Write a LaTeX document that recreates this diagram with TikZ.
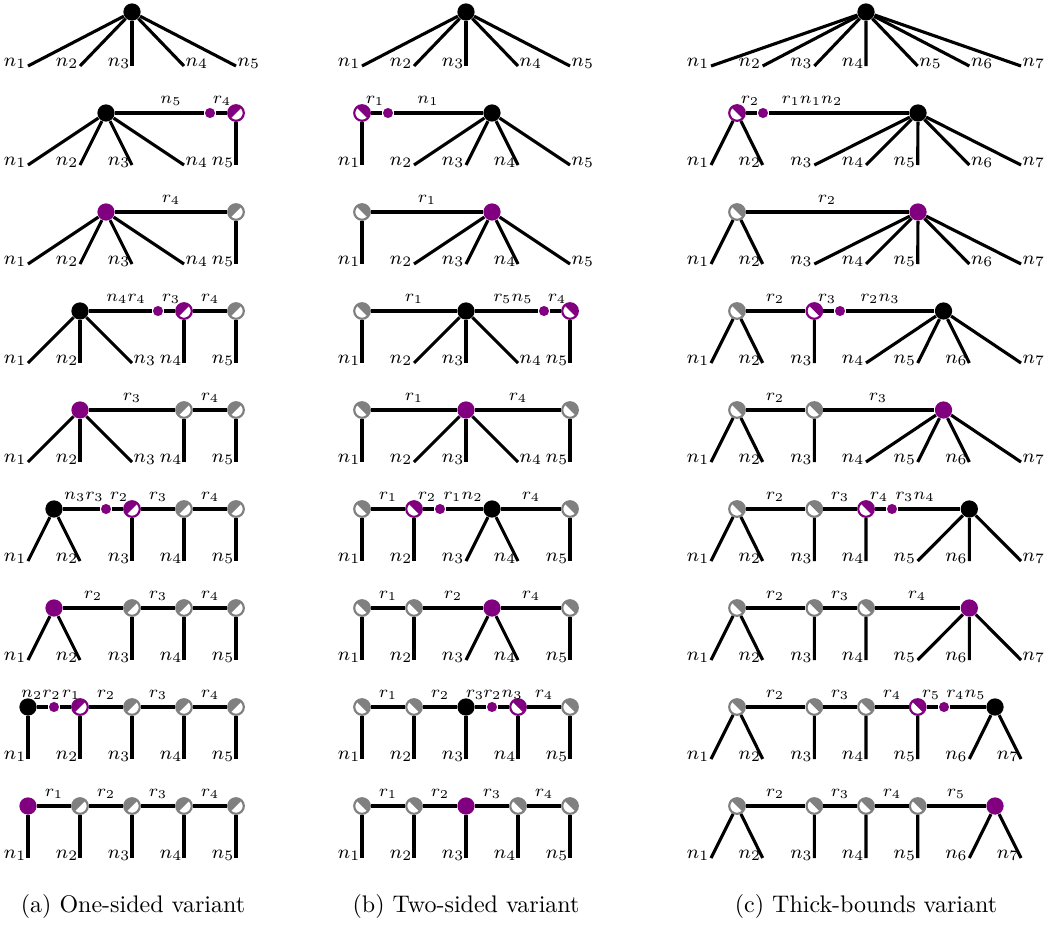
\documentclass[tikz,border=0pt]{standalone}
\usepackage{amsmath}
\usepackage{tikz}
\usepackage{color}

\definecolor{vpurple}{RGB}{128,0,128}
\definecolor{vgray}{RGB}{128,128,128}

\tikzset{
  edge/.style={line width=1.3pt},
  bnode/.style={circle, fill=black, minimum size=7.2pt, inner sep=0pt},
  pnode/.style={circle, fill=vpurple, minimum size=7.2pt, inner sep=0pt},
  mdot/.style={circle, fill=vpurple, minimum size=4.2pt, inner sep=0pt},
  halfone/.style={circle, draw=#1, fill=white, line width=0.9pt, minimum size=6.5pt, inner sep=0pt,
    path picture={\fill[#1] (path picture bounding box.south west) -- (path picture bounding box.north east) -- (path picture bounding box.north west) -- cycle;}},
  halftwo/.style={circle, draw=#1, fill=white, line width=0.9pt, minimum size=6.5pt, inner sep=0pt,
    path picture={\fill[#1] (path picture bounding box.north west) -- (path picture bounding box.south east) -- (path picture bounding box.north east) -- cycle;}},
  leaflbl/.style={inner sep=0.5pt, font=\footnotesize},
  edgelbl/.style={anchor=base, inner sep=0pt, font=\fontsize{7.5}{9}\selectfont},
  caption/.style={anchor=base, inner sep=0pt},
}

\begin{document}
\begin{tikzpicture}[x=0.4167pt,y=0.4167pt,yscale=-1]
\useasboundingbox (0,0) rectangle (1046,925);

% leaves of all rows; labels right of the end for leaves lo..hi
\foreach \row/\y/\lA/\hA/\lB/\hB/\lC/\hC in {1/66/4/5/4/5/5/7, 2/165/4/4/5/5/6/7,
    3/264/4/4/5/5/6/7, 4/363/3/3/4/4/7/7, 5/462/3/3/4/4/7/7, 6/561/0/0/0/0/7/7,
    7/660/0/0/0/0/7/7, 8/759/0/0/0/0/0/0, 9/858/0/0/0/0/0/0}{
  \foreach \i in {1,...,5}{
    \coordinate (a\row-\i) at ({28+52*(\i-1)},\y);
    \def\side{east}\ifnum\i<\lA\else\ifnum\i>\hA\else\def\side{west}\fi\fi
    \node[leaflbl, anchor=base \side] (la\row-\i) at (a\row-\i) {$n_{\i}$};
    \coordinate (b\row-\i) at ({362+52*(\i-1)},\y);
    \def\side{east}\ifnum\i<\lB\else\ifnum\i>\hB\else\def\side{west}\fi\fi
    \node[leaflbl, anchor=base \side] (lb\row-\i) at (b\row-\i) {$n_{\i}$};
  }
  \foreach \i in {1,...,7}{
    \coordinate (c\row-\i) at ({711+51.67*(\i-1)},\y);
    \def\side{east}\ifnum\i<\lC\else\ifnum\i>\hC\else\def\side{west}\fi\fi
    \node[leaflbl, anchor=base \side] (lc\row-\i) at (c\row-\i) {$n_{\i}$};
  }
}

%%%%% (a) one-sided
% row 1
\node[bnode] (a1c) at (132,12) {};
\foreach \i in {1,...,5} \draw[edge] (a1c) -- (a1-\i);
% row 2
\node[bnode] (a2c) at (106,113) {};
\node[mdot] (a2d) at (210,113) {};
\node[halfone=vpurple] (a2h5) at (236,113) {};
\foreach \i in {1,...,4} \draw[edge] (a2c) -- (a2-\i);
\draw[edge] (a2c) -- (a2d) -- (a2h5) -- (a2-5);
\node[edgelbl] (a2e1) at (171,103) {$n_5$};
\node[edgelbl] (a2e2) at (222,103) {$r_4$};
% row 3
\node[pnode] (a3c) at (106,212) {};
\node[halfone=vgray] (a3h5) at (236,212) {};
\foreach \i in {1,...,4} \draw[edge] (a3c) -- (a3-\i);
\draw[edge] (a3c) -- (a3h5) -- (a3-5);
\node[edgelbl] (a3e1) at (171,202) {$r_4$};
% row 4
\node[bnode] (a4c) at (80,311) {};
\node[mdot] (a4d) at (158,311) {};
\node[halfone=vpurple] (a4h4) at (184,311) {};
\node[halfone=vgray] (a4h5) at (236,311) {};
\foreach \i in {1,...,3} \draw[edge] (a4c) -- (a4-\i);
\draw[edge] (a4c) -- (a4d) -- (a4h4) -- (a4h5);
\draw[edge] (a4h4) -- (a4-4) (a4h5) -- (a4-5);
\node[edgelbl] (a4e1) at (126,301) {$n_4r_4$};
\node[edgelbl] (a4e2) at (171,301) {$r_3$};
\node[edgelbl] (a4e3) at (210,301) {$r_4$};
% row 5
\node[pnode] (a5c) at (80,410) {};
\node[halfone=vgray] (a5h4) at (184,410) {};
\node[halfone=vgray] (a5h5) at (236,410) {};
\foreach \i in {1,...,3} \draw[edge] (a5c) -- (a5-\i);
\draw[edge] (a5c) -- (a5h4) -- (a5h5);
\draw[edge] (a5h4) -- (a5-4) (a5h5) -- (a5-5);
\node[edgelbl] (a5e1) at (132,400) {$r_3$};
\node[edgelbl] (a5e2) at (210,400) {$r_4$};
% row 6
\node[bnode] (a6c) at (54,509) {};
\node[mdot] (a6d) at (106,509) {};
\node[halfone=vpurple] (a6h3) at (132,509) {};
\node[halfone=vgray] (a6h4) at (184,509) {};
\node[halfone=vgray] (a6h5) at (236,509) {};
\draw[edge] (a6c) -- (a6-1) (a6c) -- (a6-2);
\draw[edge] (a6c) -- (a6d) -- (a6h3) -- (a6h4) -- (a6h5);
\draw[edge] (a6h3) -- (a6-3) (a6h4) -- (a6-4) (a6h5) -- (a6-5);
\node[edgelbl] (a6e1) at (84,499) {$n_3r_3$};
\node[edgelbl] (a6e2) at (119,499) {$r_2$};
\node[edgelbl] (a6e3) at (158,499) {$r_3$};
\node[edgelbl] (a6e4) at (210,499) {$r_4$};
% row 7
\node[pnode] (a7c) at (54,608) {};
\node[halfone=vgray] (a7h3) at (132,608) {};
\node[halfone=vgray] (a7h4) at (184,608) {};
\node[halfone=vgray] (a7h5) at (236,608) {};
\draw[edge] (a7c) -- (a7-1) (a7c) -- (a7-2);
\draw[edge] (a7c) -- (a7h3) -- (a7h4) -- (a7h5);
\draw[edge] (a7h3) -- (a7-3) (a7h4) -- (a7-4) (a7h5) -- (a7-5);
\node[edgelbl] (a7e1) at (93,598) {$r_2$};
\node[edgelbl] (a7e2) at (158,598) {$r_3$};
\node[edgelbl] (a7e3) at (210,598) {$r_4$};
% row 8
\node[bnode] (a8c) at (28,707) {};
\node[mdot] (a8d) at (54,707) {};
\node[halfone=vpurple] (a8h2) at (80,707) {};
\node[halfone=vgray] (a8h3) at (132,707) {};
\node[halfone=vgray] (a8h4) at (184,707) {};
\node[halfone=vgray] (a8h5) at (236,707) {};
\draw[edge] (a8c) -- (a8-1);
\draw[edge] (a8c) -- (a8d) -- (a8h2) -- (a8h3) -- (a8h4) -- (a8h5);
\draw[edge] (a8h2) -- (a8-2) (a8h3) -- (a8-3) (a8h4) -- (a8-4) (a8h5) -- (a8-5);
\node[edgelbl] (a8e1) at (41,697) {$n_2r_2$};
\node[edgelbl] (a8e2) at (71,697) {$r_1$};
\node[edgelbl] (a8e3) at (106,697) {$r_2$};
\node[edgelbl] (a8e4) at (158,697) {$r_3$};
\node[edgelbl] (a8e5) at (210,697) {$r_4$};
% row 9
\node[pnode] (a9c) at (28,806) {};
\node[halfone=vgray] (a9h2) at (80,806) {};
\node[halfone=vgray] (a9h3) at (132,806) {};
\node[halfone=vgray] (a9h4) at (184,806) {};
\node[halfone=vgray] (a9h5) at (236,806) {};
\draw[edge] (a9c) -- (a9-1);
\draw[edge] (a9c) -- (a9h2) -- (a9h3) -- (a9h4) -- (a9h5);
\draw[edge] (a9h2) -- (a9-2) (a9h3) -- (a9-3) (a9h4) -- (a9-4) (a9h5) -- (a9-5);
\node[edgelbl] (a9e1) at (54,796) {$r_1$};
\node[edgelbl] (a9e2) at (106,796) {$r_2$};
\node[edgelbl] (a9e3) at (158,796) {$r_3$};
\node[edgelbl] (a9e4) at (210,796) {$r_4$};

%%%%% (b) two-sided
% row 1
\node[bnode] (b1c) at (466,12) {};
\foreach \i in {1,...,5} \draw[edge] (b1c) -- (b1-\i);
% row 2
\node[halftwo=vpurple] (b2h1) at (362,113) {};
\node[mdot] (b2d) at (388,113) {};
\node[bnode] (b2c) at (492,113) {};
\draw[edge] (b2h1) -- (b2-1);
\draw[edge] (b2h1) -- (b2d) -- (b2c);
\foreach \i in {2,...,5} \draw[edge] (b2c) -- (b2-\i);
\node[edgelbl] (b2e1) at (375,103) {$r_1$};
\node[edgelbl] (b2e2) at (428,103) {$n_1$};
% row 3
\node[halftwo=vgray] (b3h1) at (362,212) {};
\node[pnode] (b3c) at (492,212) {};
\draw[edge] (b3h1) -- (b3-1);
\draw[edge] (b3h1) -- (b3c);
\foreach \i in {2,...,5} \draw[edge] (b3c) -- (b3-\i);
\node[edgelbl] (b3e1) at (427,202) {$r_1$};
% row 4
\node[halftwo=vgray] (b4h1) at (362,311) {};
\node[bnode] (b4c) at (466,311) {};
\node[mdot] (b4d) at (544,311) {};
\node[halftwo=vpurple] (b4h5) at (570,311) {};
\draw[edge] (b4h1) -- (b4-1) (b4h5) -- (b4-5);
\draw[edge] (b4h1) -- (b4c) -- (b4d) -- (b4h5);
\foreach \i in {2,...,4} \draw[edge] (b4c) -- (b4-\i);
\node[edgelbl] (b4e1) at (414,301) {$r_1$};
\node[edgelbl] (b4e2) at (513,301) {$r_5n_5$};
\node[edgelbl] (b4e3) at (557,301) {$r_4$};
% row 5
\node[halftwo=vgray] (b5h1) at (362,410) {};
\node[pnode] (b5c) at (466,410) {};
\node[halftwo=vgray] (b5h5) at (570,410) {};
\draw[edge] (b5h1) -- (b5-1) (b5h5) -- (b5-5);
\draw[edge] (b5h1) -- (b5c) -- (b5h5);
\foreach \i in {2,...,4} \draw[edge] (b5c) -- (b5-\i);
\node[edgelbl] (b5e1) at (414,400) {$r_1$};
\node[edgelbl] (b5e2) at (518,400) {$r_4$};
% row 6
\node[halftwo=vgray] (b6h1) at (362,509) {};
\node[halftwo=vpurple] (b6h2) at (414,509) {};
\node[mdot] (b6d) at (440,509) {};
\node[bnode] (b6c) at (492,509) {};
\node[halftwo=vgray] (b6h5) at (570,509) {};
\draw[edge] (b6h1) -- (b6-1) (b6h2) -- (b6-2) (b6h5) -- (b6-5);
\draw[edge] (b6h1) -- (b6h2) -- (b6d) -- (b6c) -- (b6h5);
\draw[edge] (b6c) -- (b6-3) (b6c) -- (b6-4);
\node[edgelbl] (b6e1) at (388,499) {$r_1$};
\node[edgelbl] (b6e2) at (427,499) {$r_2$};
\node[edgelbl] (b6e3) at (463,499) {$r_1n_2$};
\node[edgelbl] (b6e4) at (531,499) {$r_4$};
% row 7
\node[halftwo=vgray] (b7h1) at (362,608) {};
\node[halftwo=vgray] (b7h2) at (414,608) {};
\node[pnode] (b7c) at (492,608) {};
\node[halftwo=vgray] (b7h5) at (570,608) {};
\draw[edge] (b7h1) -- (b7-1) (b7h2) -- (b7-2) (b7h5) -- (b7-5);
\draw[edge] (b7h1) -- (b7h2) -- (b7c) -- (b7h5);
\draw[edge] (b7c) -- (b7-3) (b7c) -- (b7-4);
\node[edgelbl] (b7e1) at (388,598) {$r_1$};
\node[edgelbl] (b7e2) at (453,598) {$r_2$};
\node[edgelbl] (b7e3) at (531,598) {$r_4$};
% row 8
\node[halftwo=vgray] (b8h1) at (362,707) {};
\node[halftwo=vgray] (b8h2) at (414,707) {};
\node[bnode] (b8c) at (466,707) {};
\node[mdot] (b8d) at (492,707) {};
\node[halftwo=vpurple] (b8h4) at (518,707) {};
\node[halftwo=vgray] (b8h5) at (570,707) {};
\draw[edge] (b8h1) -- (b8-1) (b8h2) -- (b8-2) (b8c) -- (b8-3) (b8h4) -- (b8-4) (b8h5) -- (b8-5);
\draw[edge] (b8h1) -- (b8h2) -- (b8c) -- (b8d) -- (b8h4) -- (b8h5);
\node[edgelbl] (b8e1) at (388,697) {$r_1$};
\node[edgelbl] (b8e2) at (440,697) {$r_2$};
\node[edgelbl] (b8e3) at (475,697) {$r_3$};
\node[edgelbl] (b8e4) at (503,697) {$r_2n_3$};
\node[edgelbl] (b8e5) at (544,697) {$r_4$};
% row 9
\node[halftwo=vgray] (b9h1) at (362,806) {};
\node[halftwo=vgray] (b9h2) at (414,806) {};
\node[pnode] (b9c) at (466,806) {};
\node[halftwo=vgray] (b9h4) at (518,806) {};
\node[halftwo=vgray] (b9h5) at (570,806) {};
\draw[edge] (b9h1) -- (b9-1) (b9h2) -- (b9-2) (b9c) -- (b9-3) (b9h4) -- (b9-4) (b9h5) -- (b9-5);
\draw[edge] (b9h1) -- (b9h2) -- (b9c) -- (b9h4) -- (b9h5);
\node[edgelbl] (b9e1) at (388,796) {$r_1$};
\node[edgelbl] (b9e2) at (440,796) {$r_2$};
\node[edgelbl] (b9e3) at (492,796) {$r_3$};
\node[edgelbl] (b9e4) at (544,796) {$r_4$};

%%%%% (c) thick-bounds
% row 1
\node[bnode] (c1c) at (866,12) {};
\foreach \i in {1,...,7} \draw[edge] (c1c) -- (c1-\i);
% row 2
\node[halftwo=vpurple] (c2h) at (737,113) {};
\node[mdot] (c2d) at (763,113) {};
\node[bnode] (c2c) at (918,113) {};
\draw[edge] (c2h) -- (c2-1) (c2h) -- (c2-2);
\draw[edge] (c2h) -- (c2d) -- (c2c);
\foreach \i in {3,...,7} \draw[edge] (c2c) -- (c2-\i);
\node[edgelbl] (c2e1) at (750,103) {$r_2$};
\node[edgelbl] (c2e2) at (812,103) {$r_1n_1n_2$};
% row 3
\node[halftwo=vgray] (c3h) at (737,212) {};
\node[pnode] (c3c) at (918,212) {};
\draw[edge] (c3h) -- (c3-1) (c3h) -- (c3-2);
\draw[edge] (c3h) -- (c3c);
\foreach \i in {3,...,7} \draw[edge] (c3c) -- (c3-\i);
\node[edgelbl] (c3e1) at (827,202) {$r_2$};
% row 4
\node[halftwo=vgray] (c4h) at (737,311) {};
\node[halftwo=vpurple] (c4h3) at (814.3,311) {};
\node[mdot] (c4d) at (840,311) {};
\node[bnode] (c4c) at (943.5,311) {};
\draw[edge] (c4h) -- (c4-1) (c4h) -- (c4-2) (c4h3) -- (c4-3);
\draw[edge] (c4h) -- (c4h3) -- (c4d) -- (c4c);
\foreach \i in {4,...,7} \draw[edge] (c4c) -- (c4-\i);
\node[edgelbl] (c4e1) at (775,301) {$r_2$};
\node[edgelbl] (c4e2) at (827,301) {$r_3$};
\node[edgelbl] (c4e3) at (880,301) {$r_2n_3$};
% row 5
\node[halftwo=vgray] (c5h) at (737,410) {};
\node[halftwo=vgray] (c5h3) at (814.3,410) {};
\node[pnode] (c5c) at (943.5,410) {};
\draw[edge] (c5h) -- (c5-1) (c5h) -- (c5-2) (c5h3) -- (c5-3);
\draw[edge] (c5h) -- (c5h3) -- (c5c);
\foreach \i in {4,...,7} \draw[edge] (c5c) -- (c5-\i);
\node[edgelbl] (c5e1) at (775,400) {$r_2$};
\node[edgelbl] (c5e2) at (878,400) {$r_3$};
% row 6
\node[halftwo=vgray] (c6h) at (737,509) {};
\node[halftwo=vgray] (c6h3) at (814.3,509) {};
\node[halftwo=vpurple] (c6h4) at (866,509) {};
\node[mdot] (c6d) at (892,509) {};
\node[bnode] (c6c) at (969.3,509) {};
\draw[edge] (c6h) -- (c6-1) (c6h) -- (c6-2) (c6h3) -- (c6-3) (c6h4) -- (c6-4);
\draw[edge] (c6h) -- (c6h3) -- (c6h4) -- (c6d) -- (c6c);
\foreach \i in {5,...,7} \draw[edge] (c6c) -- (c6-\i);
\node[edgelbl] (c6e1) at (775,499) {$r_2$};
\node[edgelbl] (c6e2) at (840,499) {$r_3$};
\node[edgelbl] (c6e3) at (879,499) {$r_4$};
\node[edgelbl] (c6e4) at (915,499) {$r_3n_4$};
% row 7
\node[halftwo=vgray] (c7h) at (737,608) {};
\node[halftwo=vgray] (c7h3) at (814.3,608) {};
\node[halftwo=vgray] (c7h4) at (866,608) {};
\node[pnode] (c7c) at (969.3,608) {};
\draw[edge] (c7h) -- (c7-1) (c7h) -- (c7-2) (c7h3) -- (c7-3) (c7h4) -- (c7-4);
\draw[edge] (c7h) -- (c7h3) -- (c7h4) -- (c7c);
\foreach \i in {5,...,7} \draw[edge] (c7c) -- (c7-\i);
\node[edgelbl] (c7e1) at (775,598) {$r_2$};
\node[edgelbl] (c7e2) at (840,598) {$r_3$};
\node[edgelbl] (c7e3) at (917,598) {$r_4$};
% row 8
\node[halftwo=vgray] (c8h) at (737,707) {};
\node[halftwo=vgray] (c8h3) at (814.3,707) {};
\node[halftwo=vgray] (c8h4) at (866,707) {};
\node[halftwo=vpurple] (c8h5) at (917.7,707) {};
\node[mdot] (c8d) at (944,707) {};
\node[bnode] (c8c) at (995,707) {};
\draw[edge] (c8h) -- (c8-1) (c8h) -- (c8-2) (c8h3) -- (c8-3) (c8h4) -- (c8-4) (c8h5) -- (c8-5);
\draw[edge] (c8h) -- (c8h3) -- (c8h4) -- (c8h5) -- (c8d) -- (c8c);
\draw[edge] (c8c) -- (c8-6) (c8c) -- (c8-7);
\node[edgelbl] (c8e1) at (775,697) {$r_2$};
\node[edgelbl] (c8e2) at (840,697) {$r_3$};
\node[edgelbl] (c8e3) at (892,697) {$r_4$};
\node[edgelbl] (c8e4) at (931,697) {$r_5$};
\node[edgelbl] (c8e5) at (966,697) {$r_4n_5$};
% row 9
\node[halftwo=vgray] (c9h) at (737,806) {};
\node[halftwo=vgray] (c9h3) at (814.3,806) {};
\node[halftwo=vgray] (c9h4) at (866,806) {};
\node[halftwo=vgray] (c9h5) at (917.7,806) {};
\node[pnode] (c9c) at (995,806) {};
\draw[edge] (c9h) -- (c9-1) (c9h) -- (c9-2) (c9h3) -- (c9-3) (c9h4) -- (c9-4) (c9h5) -- (c9-5);
\draw[edge] (c9h) -- (c9h3) -- (c9h4) -- (c9h5) -- (c9c);
\draw[edge] (c9c) -- (c9-6) (c9c) -- (c9-7);
\node[edgelbl] (c9e1) at (775,796) {$r_2$};
\node[edgelbl] (c9e2) at (840,796) {$r_3$};
\node[edgelbl] (c9e3) at (892,796) {$r_4$};
\node[edgelbl] (c9e4) at (956,796) {$r_5$};

% captions
\node[caption] (capa) at (133,912) {(a) One-sided variant};
\node[caption] (capb) at (466,912) {(b) Two-sided variant};
\node[caption] (capc) at (866,912) {(c) Thick-bounds variant};
\end{tikzpicture}
\end{document}
